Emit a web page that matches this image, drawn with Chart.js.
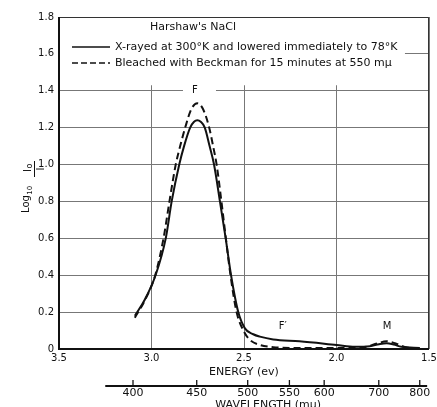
<!DOCTYPE html>
<html>
<head>
<meta charset="utf-8">
<script src="https://cdn.jsdelivr.net/npm/chart.js@4.4.0/dist/chart.umd.min.js"></script>
<style>
  html, body { margin: 0; padding: 0; background: #fff; overflow: hidden; }
</style>
</head>
<body>
<canvas id="myChart" width="437" height="411"></canvas>
<script>
// energy (ev) and Log10 Io/I
var xrayEnergy = [3.09, 3.035, 2.978, 2.923, 2.891, 2.85, 2.824, 2.791, 2.77, 2.752, 2.734, 2.712, 2.686, 2.662, 2.63, 2.599, 2.57, 2.531, 2.495, 2.45, 2.414, 2.342, 2.2, 2.0, 1.9, 1.82, 1.77, 1.73, 1.69, 1.65, 1.55];
var xrayValues = [0.18, 0.27, 0.40, 0.60, 0.80, 1.00, 1.10, 1.20, 1.232, 1.24, 1.232, 1.20, 1.10, 1.00, 0.80, 0.60, 0.40, 0.20, 0.112, 0.08, 0.067, 0.052, 0.042, 0.022, 0.012, 0.015, 0.026, 0.031, 0.024, 0.012, 0.006];
var bleachEnergy = [3.09, 3.035, 2.98, 2.935, 2.903, 2.869, 2.845, 2.818, 2.785, 2.752, 2.721, 2.688, 2.667, 2.648, 2.622, 2.598, 2.573, 2.54, 2.50, 2.468, 2.414, 2.342, 2.2, 2.0, 1.85, 1.78, 1.73, 1.68, 1.62, 1.55];
var bleachValues = [0.17, 0.265, 0.40, 0.60, 0.80, 1.00, 1.10, 1.20, 1.30, 1.332, 1.30, 1.20, 1.10, 1.00, 0.80, 0.60, 0.40, 0.20, 0.094, 0.049, 0.022, 0.01, 0.005, 0.005, 0.01, 0.03, 0.042, 0.03, 0.008, 0.004];

var energyTicks = [3.5, 3.0, 2.5, 2.0, 1.5];
var densityTicks = [0, 0.2, 0.4, 0.6, 0.8, 1.0, 1.2, 1.4, 1.6, 1.8];
var wavelengthTicks = [400, 450, 500, 550, 600, 700, 800];

var legendTitle = "Harshaw's NaCl";
var seriesLabels = ["X-rayed at 300°K and lowered immediately to 78°K",
                    "Bleached with Beckman for 15 minutes at 550 mμ"];
var peakLabels = ["F", "F′", "M"];
var peakEnergy = [2.765, 2.29, 1.727];
var peakLevel = [1.4, 0.12, 0.12];

var FONT = "'DejaVu Sans', sans-serif";
var ink = "#111";

function pts(xs, ys) {
  return xs.map(function (x, i) { return { x: x, y: ys[i] }; });
}

var paper = {
  id: "paper",
  beforeDatasetsDraw: function (chart) {
    var ctx = chart.ctx;
    var ca = chart.chartArea;
    var xs = chart.scales.x, ys = chart.scales.y, x2 = chart.scales.x2;
    ctx.save();

    // blank area under the legend
    ctx.fillStyle = "#fff";
    var boxR = xs.getPixelForValue(1.63);
    var boxB = ys.getPixelForValue(1.43);
    ctx.fillRect(ca.left + 1, ca.top + 1, boxR - ca.left - 1, boxB - ca.top - 1);

    // gap in the 1.4 line behind the F label
    var fx = xs.getPixelForValue(peakEnergy[0]);
    var fy = ys.getPixelForValue(peakLevel[0]);
    ctx.fillRect(fx - 12, fy - 3, 33, 6);

    // frame
    ctx.strokeStyle = "#333";
    ctx.lineWidth = 1;
    ctx.beginPath();
    ctx.moveTo(ca.left, ca.top + 0.5);
    ctx.lineTo(ca.right - 0.5, ca.top + 0.5);
    ctx.lineTo(ca.right - 0.5, ca.bottom);
    ctx.stroke();
    ctx.strokeStyle = ink;
    ctx.lineWidth = 2;
    ctx.beginPath();
    ctx.moveTo(ca.left, ca.top);
    ctx.lineTo(ca.left, ca.bottom);
    ctx.lineTo(ca.right, ca.bottom);
    ctx.stroke();

    // legend
    ctx.fillStyle = ink;
    ctx.font = "11px " + FONT;
    ctx.textBaseline = "middle";
    ctx.textAlign = "left";
    ctx.fillText(legendTitle, ca.left + 91, ca.top + 10);
    var rows = [ca.top + 30, ca.top + 46];
    ctx.lineWidth = 1.6;
    for (var i = 0; i < 2; i++) {
      ctx.setLineDash(i === 0 ? [] : [6, 3]);
      ctx.beginPath();
      ctx.moveTo(ca.left + 13, rows[i]);
      ctx.lineTo(ca.left + 51, rows[i]);
      ctx.stroke();
      ctx.setLineDash([]);
      ctx.fillText(seriesLabels[i], ca.left + 56, rows[i]);
    }

    // peak labels
    ctx.font = "10px " + FONT;
    ctx.textAlign = "center";
    for (var k = 0; k < peakLabels.length; k++) {
      ctx.fillText(peakLabels[k], xs.getPixelForValue(peakEnergy[k]), ys.getPixelForValue(peakLevel[k]));
    }

    // y title: Log10 Io / I, rotated
    ctx.save();
    ctx.rotate(-Math.PI / 2);
    ctx.textAlign = "left";
    ctx.textBaseline = "alphabetic";
    var midY = (ca.top + ca.bottom) / 2;
    var u0 = -(midY + 30);
    ctx.font = "10px " + FONT;
    ctx.fillText("Log", u0, 29);
    var w = ctx.measureText("Log").width;
    ctx.font = "7px " + FONT;
    ctx.fillText("10", u0 + w + 0.5, 32);
    var fu = -(midY - 14);
    ctx.font = "10px " + FONT;
    ctx.textAlign = "right";
    ctx.fillText("I", fu, 31);
    ctx.textAlign = "left";
    ctx.font = "8px " + FONT;
    ctx.fillText("o", fu + 0.5, 32);
    ctx.lineWidth = 1;
    ctx.beginPath();
    ctx.moveTo(fu - 8, 34.5);
    ctx.lineTo(fu + 8, 34.5);
    ctx.stroke();
    ctx.font = "10px " + FONT;
    ctx.textAlign = "center";
    ctx.fillText("I", fu, 44);
    ctx.restore();

    // wavelength axis line with upward ticks, and its title
    var ly = x2.top + 7;
    var lx0 = x2.getPixelForValue(3.25), lx1 = x2.getPixelForValue(1.51);
    ctx.strokeStyle = ink;
    ctx.lineWidth = 2;
    ctx.beginPath();
    ctx.moveTo(lx0, ly);
    ctx.lineTo(lx1, ly);
    ctx.stroke();
    ctx.lineWidth = 1.3;
    wavelengthTicks.forEach(function (wl) {
      var px = x2.getPixelForValue(1240 / wl);
      ctx.beginPath();
      ctx.moveTo(px, ly);
      ctx.lineTo(px, ly - 6);
      ctx.stroke();
    });
    ctx.font = "11px " + FONT;
    ctx.textAlign = "center";
    ctx.textBaseline = "alphabetic";
    ctx.fillText("WAVELENGTH (mμ)", (lx0 + lx1) / 2 + 2, x2.top + 29);
    ctx.restore();
  }
};

var tickFont = { family: FONT, size: 10 };
var bigFont = { family: FONT, size: 11 };

new Chart(document.getElementById("myChart").getContext("2d"), {
  type: "line",
  data: {
    datasets: [
      {
        label: seriesLabels[0],
        data: pts(xrayEnergy, xrayValues),
        borderColor: ink,
        borderWidth: 2,
        pointRadius: 0,
        fill: false,
        cubicInterpolationMode: "monotone"
      },
      {
        label: seriesLabels[1],
        data: pts(bleachEnergy, bleachValues),
        borderColor: ink,
        borderWidth: 2,
        borderDash: [7, 4],
        pointRadius: 0,
        fill: false,
        cubicInterpolationMode: "monotone"
      }
    ]
  },
  options: {
    responsive: false,
    animation: false,
    layout: { padding: { left: 0, top: 17, right: 8, bottom: 0 } },
    plugins: { legend: { display: false }, tooltip: { enabled: false } },
    scales: {
      x: {
        type: "linear",
        position: "bottom",
        weight: 0,
        reverse: true,
        min: 1.5,
        max: 3.5,
        afterBuildTicks: function (s) { s.ticks = energyTicks.map(function (v) { return { value: v }; }); },
        afterFit: function (s) { s.height = 30; s.paddingLeft = 0; s.paddingRight = 0; },
        grid: { color: "#777", lineWidth: 1, drawTicks: false },
        border: { display: false },
        ticks: {
          color: ink, font: tickFont, padding: 3, autoSkip: false, maxRotation: 0,
          callback: function (v) { return v.toFixed(1); }
        },
        title: { display: true, text: "ENERGY (ev)", color: ink, font: bigFont, padding: 0 }
      },
      x2: {
        type: "linear",
        position: "bottom",
        weight: 1,
        reverse: true,
        min: 1.5,
        max: 3.5,
        afterBuildTicks: function (s) { s.ticks = wavelengthTicks.map(function (wl) { return { value: 1240 / wl }; }); },
        afterFit: function (s) { s.height = 32; s.paddingLeft = 0; s.paddingRight = 0; },
        grid: { display: false, drawTicks: false },
        border: { display: false },
        ticks: {
          color: ink, font: bigFont, padding: 8, autoSkip: false, maxRotation: 0,
          callback: function (v, i) { return String(wavelengthTicks[i]); }
        },
        title: { display: false }
      },
      y: {
        type: "linear",
        min: 0,
        max: 1.8,
        afterBuildTicks: function (s) { s.ticks = densityTicks.map(function (v) { return { value: v }; }); },
        afterFit: function (s) { s.width = 59; },
        grid: { color: "#777", lineWidth: 1, drawTicks: false },
        border: { display: false },
        ticks: {
          color: ink, font: tickFont, padding: 5,
          callback: function (v) { return v === 0 ? "0" : v.toFixed(1); }
        }
      }
    }
  },
  plugins: [paper]
});
</script>
</body>
</html>
